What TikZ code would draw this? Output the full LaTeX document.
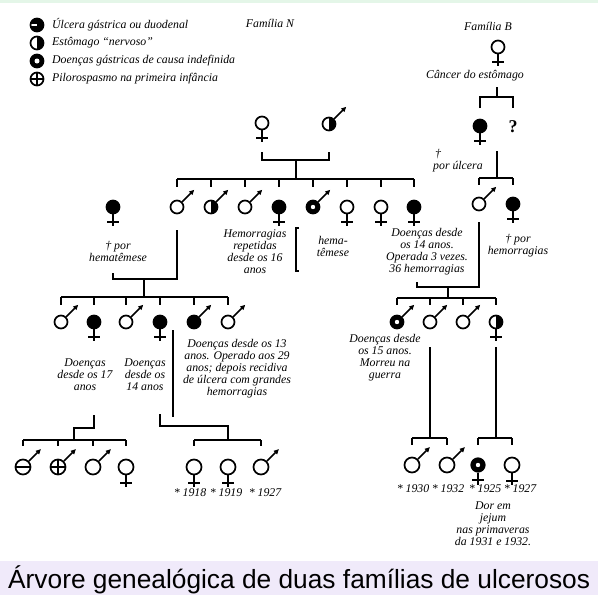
\documentclass[tikz,border=0pt]{standalone}
\usepackage{fontspec}
\setmainfont{Liberation Serif}
\setsansfont{Liberation Sans}
\usetikzlibrary{arrows.meta,calc}
\definecolor{band}{RGB}{240,234,250}
\definecolor{topline}{RGB}{228,246,232}
\tikzset{
  person/.style={circle,draw,line width=1.7pt,minimum size=13pt,inner sep=0pt,fill=white},
  big/.style={minimum size=15pt},
  blk/.style={fill=black},
  ring/.style={fill=black,path picture={\fill[white] (path picture bounding box.center) circle (2.2pt);}},
  half/.style={path picture={\fill[black] (path picture bounding box.north) rectangle (path picture bounding box.south east);}},
  plus/.style={path picture={\draw[line width=1.3pt] (path picture bounding box.north)--(path picture bounding box.south) (path picture bounding box.west)--(path picture bounding box.east);}},
  minus/.style={path picture={\draw[line width=1.8pt] (path picture bounding box.west)--(path picture bounding box.east);}},
  ulc/.style={fill=black,path picture={\fill[white] ($(path picture bounding box.west)+(0pt,-0.5pt)$) rectangle ($(path picture bounding box.center)+(0pt,1.5pt)$);}},
  sym/.style={line width=1.5pt},
  link/.style={line width=1.5pt},
  lbl/.style={font=\fontsize{11.8}{12}\selectfont\itshape,align=center,inner sep=0pt},
}
\newcommand\male[3]{\node[person,#3] (#1) at (#2) {};
  \draw[sym,-{Triangle[length=5pt,width=4.6pt]}] (#1.45) -- ++(12,-12);}
\newcommand\female[3]{\node[person,#3] (#1) at (#2) {};
  \draw[sym] (#1.south) -- ++(0,12) coordinate (#1-f);
  \draw[sym] ($(#1.south)+(-6,7.5)$) -- ++(12,0);}
\begin{document}
\begin{tikzpicture}[x=1pt,y=-1pt]
\useasboundingbox (0,0) rectangle (598,595);
\fill[topline] (0,0) rectangle (598,3);
\fill[band] (0,561) rectangle (598,595);

% legend
\node[person,ulc,minimum size=13pt] (L1) at (37,25) {};
\node[lbl,anchor=west] (L1t) at (52,25) {Úlcera gástrica ou duodenal};
\node[person,half,minimum size=13pt] (L2) at (37,43) {};
\node[lbl,anchor=west] (L2t) at (52,43) {Estômago “nervoso”};
\node[person,blk,minimum size=13pt,path picture={\fill[white] (path picture bounding box.center) circle (2.5pt);}] (L3) at (37,61) {};
\node[lbl,anchor=west] (L3t) at (52,61) {Doenças gástricas de causa indefinida};
\node[person,plus,minimum size=13pt] (L4) at (37,79) {};
\node[lbl,anchor=west] (L4t) at (52,79) {Pilorospasmo na primeira infância};

\node[lbl] (TN) at (270,23) {Família N};
\node[lbl] (TB) at (488,26) {Família B};

% ---------- Family N ----------
\female{nA}{262,123}{}
\male{nB}{329,124}{half}
\coordinate (m1) at (296,160);
\coordinate (s1) at (296,179);
\draw[link] (nA |- 0,152) -- (nA |- m1) -- (nB |- m1) -- (nB |- 0,152);
\draw[link] (m1) -- (s1);

\male{c1}{177,207}{}
\male{c2}{211,207}{half}
\male{c3}{245,207}{}
\female{c4}{279,207}{blk}
\male{c5}{313,207}{ring}
\female{c6}{347,207}{}
\female{c7}{381,207}{}
\female{c8}{414,207}{blk}
\draw[link] (c1 |- s1) -- (c8 |- s1);
\foreach \c in {c1,c2,c3,c4,c5,c6,c7,c8}{\draw[link] (\c |- s1) -- (\c |- 0,187);}

\female{sp1}{113,207}{blk}
\node[lbl] (t1) at (118,251) {† por\\hematêmese};
\node[lbl] (t2) at (255,252) {Hemorragias\\repetidas\\desde os 16\\anos};
\draw[line width=1.2pt] (299,228) -- (296,228) -- (296,271) -- (299,271);
\node[lbl] (t3) at (333,246) {hema-\\têmese};
\node[lbl] (t4) at (427,252) {Doenças desde\\os 14 anos.\\Operada 3 vezes.\\36 hemorragias};

\coordinate (m2) at (144,279);
\coordinate (s2) at (144,297);
\draw[link] (c1 |- 0,230) -- (c1 |- m2) -- (sp1 |- m2) -- (sp1 |- 0,273);
\draw[link] (m2) -- (s2);

\male{g1}{61,322}{}
\female{g2}{94,322}{blk}
\male{g3}{126,322}{}
\female{g4}{160,322}{blk}
\male{g5}{194,322}{blk}
\male{g6}{228,322}{}
\draw[link] (g1 |- s2) -- (g6 |- s2);
\foreach \c in {g1,g2,g3,g4,g5,g6}{\draw[link] (\c |- s2) -- (\c |- 0,305);}

\node[lbl] (t5) at (85,375) {Doenças\\desde os 17\\anos};
\node[lbl] (t6) at (145,375) {Doenças\\desde os\\14 anos};
\node[lbl] (t7) at (237,369) {Doenças desde os 13\\anos. Operado aos 29\\anos; depois recidiva\\de úlcera com grandes\\hemorragias};

% descendants of g2
\coordinate (m3) at (74,428);
\coordinate (s3) at (74,440);
\draw[link] (g2 |- 0,415) -- (g2 |- m3) -- (m3) -- (s3);
\male{h1}{23,467}{big,minus}
\male{h2}{58,467}{big,plus}
\male{h3}{93,467}{big}
\female{h4}{126,467}{big}
\draw[link] (h1 |- s3) -- (h4 |- s3);
\foreach \c in {h1,h2,h3,h4}{\draw[link] (\c |- s3) -- (\c |- 0,446);}

% descendants of g4
\coordinate (v4) at (173,330);
\draw[link] (v4) -- (v4 |- 0,417);
\coordinate (m4) at (228,426);
\coordinate (s4) at (228,440);
\draw[link] (g4 |- 0,414) -- (g4 |- m4) -- (m4) -- (s4);
\female{h5}{194,467}{big}
\female{h6}{228,467}{big}
\male{h7}{261,467}{big}
\draw[link] (h5 |- s4) -- (h7 |- s4);
\foreach \c in {h5,h7}{\draw[link] (\c |- s4) -- (\c |- 0,446);}
\node[lbl] (d1) at (190,493) {* 1918};
\node[lbl] (d2) at (226,493) {* 1919};
\node[lbl] (d3) at (265,493) {* 1927};

% ---------- Family B ----------
\female{bA}{498,47}{}
\node[lbl] (t8) at (475,76) {Câncer do estômago};
\coordinate (m5) at (497,97);
\female{bB}{480,126}{blk}
\node[font=\fontsize{18}{18}\selectfont\bfseries,inner sep=0pt] (bQ) at (513,127) {?};
\draw[link] (m5 |- 0,87) -- (m5);
\draw[link] (bB |- 0,108) -- (bB |- m5) -- (bQ |- m5) -- (bQ |- 0,108);
\node[lbl,align=left,anchor=west] (t9) at (433,160.5) {\,†\\por úlcera};

\coordinate (s6) at (497,178);
\draw[link] (s6 |- 0,151) -- (s6);
\male{bC}{479,204}{}
\female{bD}{513,204}{blk}
\draw[link] (bC |- s6) -- (bD |- s6);
\foreach \c in {bC,bD}{\draw[link] (\c |- s6) -- (\c |- 0,185);}
\node[lbl] (t10) at (518,246) {† por\\hemorragias};

\coordinate (m7) at (448,287);
\coordinate (k8) at (417,282);
\coordinate (s7) at (448,298);
\draw[link] (bC |- 0,222) -- (bC |- m7) -- (k8 |- m7) -- (k8);
\draw[link] (m7) -- (s7);
\male{bE}{397,322}{ring}
\male{bF}{430,322}{}
\male{bG}{463,322}{}
\female{bH}{496,322}{half}
\draw[link] (bE |- s7) -- (bH |- s7);
\foreach \c in {bE,bF,bG,bH}{\draw[link] (\c |- s7) -- (\c |- 0,305);}
\node[lbl] (t11) at (385,358) {Doenças desde\\os 15 anos.\\Morreu na\\guerra};

\coordinate (s8) at (430,438);
\coordinate (s9) at (496,438);
\draw[link] (bF |- 0,347) -- (s8);
\draw[link] (bH |- 0,347) -- (s9);
\male{bI}{412,465}{big}
\male{bJ}{447,465}{big}
\female{bK}{478,465}{ring,minimum size=13.5pt}
\female{bL}{512,465}{big}
\draw[link] (bI |- s8) -- (bJ |- s8);
\draw[link] (bK |- s9) -- (bL |- s9);
\foreach \c in {bI,bJ}{\draw[link] (\c |- s8) -- (\c |- 0,445);}
\foreach \c in {bK,bL}{\draw[link] (\c |- s9) -- (\c |- 0,445);}
\node[lbl] (d4) at (413,489) {* 1930};
\node[lbl] (d5) at (448,489) {* 1932};
\node[lbl] (d6) at (485,489) {* 1925};
\node[lbl] (d7) at (520,489) {* 1927};
\node[lbl] (t12) at (493,524) {Dor em\\jejum\\nas primaveras\\da 1931 e 1932.};

% caption
\node[font=\sffamily\fontsize{26.3}{28}\selectfont,anchor=base west,inner sep=0pt] (cap) at (8,588) {Árvore genealógica de duas famílias de ulcerosos};
\end{tikzpicture}
\end{document}
